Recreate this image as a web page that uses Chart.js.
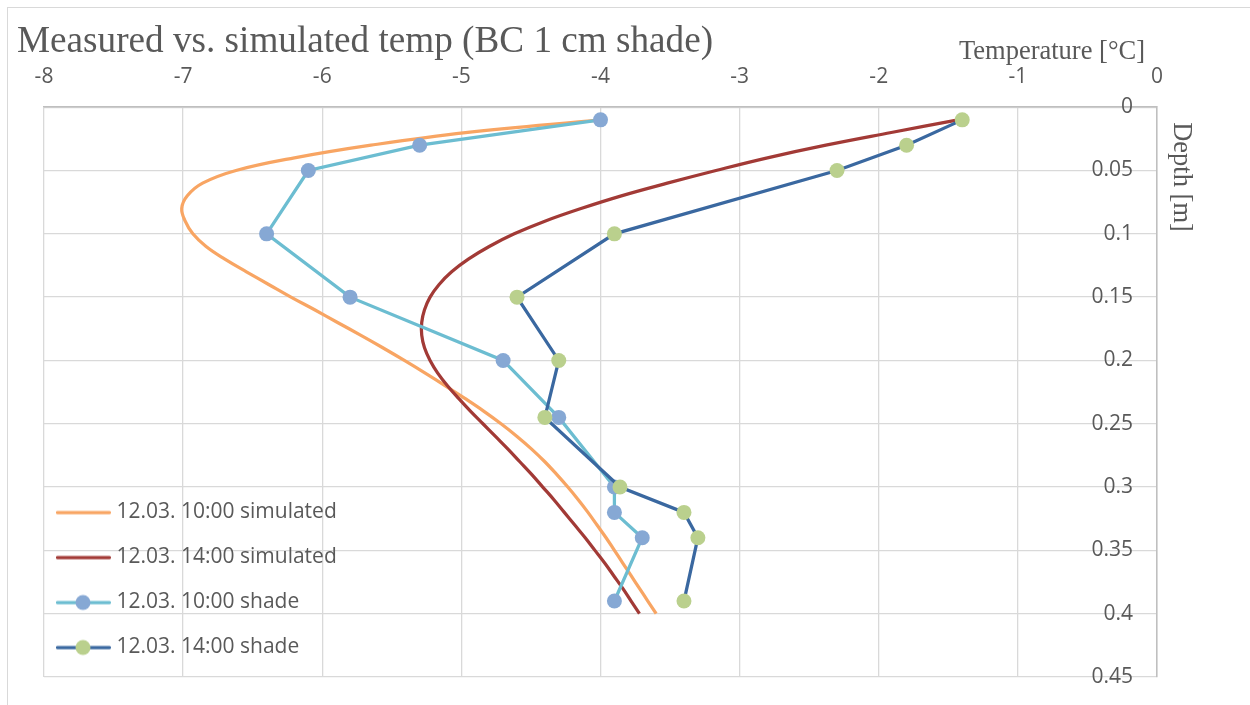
<!DOCTYPE html>
<html>
<head>
<meta charset="utf-8">
<script src="https://cdn.jsdelivr.net/npm/chart.js@4.4.1/dist/chart.umd.min.js"></script>
<style>
  html, body { margin: 0; padding: 0; background: #ffffff; }
  #wrap { position: relative; width: 1250px; height: 705px; overflow: hidden; }
  #frame { position: absolute; left: 7px; top: 7px; width: 1300px; height: 800px; border: 1px solid #d9d9d9; box-sizing: border-box; }
  #chart { position: absolute; left: 0; top: 0; }
</style>
</head>
<body>
<div id="wrap">
  <div id="frame"></div>
  <canvas id="chart" width="1250" height="705"></canvas>
</div>
<script>
// Chart text
const chartTitle = 'Measured vs. simulated temp (BC 1 cm shade)';
const xTitle = 'Temperature [°C]';
const yTitle = 'Depth [m]';
const seriesNames = ['12.03. 10:00 simulated', '12.03. 14:00 simulated', '12.03. 10:00 shade', '12.03. 14:00 shade'];

// Tick labels
const tempTickLabels = ['-8', '-7', '-6', '-5', '-4', '-3', '-2', '-1', '0'];
const depthTickLabels = ['0', '0.05', '0.1', '0.15', '0.2', '0.25', '0.3', '0.35', '0.4', '0.45'];

// Simulated profiles (depth in m, temperature in °C)
const depthSim = [0.01, 0.02, 0.03, 0.04, 0.05, 0.06, 0.07, 0.08, 0.09, 0.10,
                  0.11, 0.12, 0.13, 0.14, 0.15, 0.16, 0.17, 0.18, 0.19, 0.20,
                  0.21, 0.22, 0.23, 0.24, 0.25, 0.26, 0.27, 0.28, 0.29, 0.30,
                  0.31, 0.32, 0.33, 0.34, 0.35, 0.36, 0.37, 0.38, 0.39, 0.40];
const tempSim10 = [-4.00, -4.97, -5.65, -6.20, -6.62, -6.86, -6.97, -7.01, -6.985, -6.93,
                   -6.835, -6.70, -6.545, -6.385, -6.225, -6.055, -5.89, -5.725, -5.565, -5.41,
                   -5.26, -5.115, -4.975, -4.84, -4.715, -4.60, -4.495, -4.40, -4.315, -4.235,
                   -4.16, -4.09, -4.025, -3.96, -3.90, -3.84, -3.78, -3.72, -3.66, -3.60];
const tempSim14 = [-1.43, -1.91, -2.38, -2.80, -3.17, -3.52, -3.85, -4.14, -4.40, -4.62,
                   -4.80, -4.95, -5.07, -5.16, -5.225, -5.265, -5.285, -5.285, -5.265, -5.225,
                   -5.17, -5.10, -5.02, -4.935, -4.845, -4.755, -4.665, -4.58, -4.495, -4.415,
                   -4.335, -4.26, -4.185, -4.11, -4.04, -3.97, -3.905, -3.84, -3.78, -3.72];

// Measured profiles in shade
const depthShade = [0.01, 0.03, 0.05, 0.10, 0.15, 0.20, 0.245, 0.30, 0.32, 0.34, 0.39];
const tempShade10 = [-4.0, -5.3, -6.1, -6.4, -5.8, -4.7, -4.3, -3.9, -3.9, -3.7, -3.9];
const tempShade14 = [-1.4, -1.8, -2.3, -3.9, -4.6, -4.3, -4.4, -3.86, -3.4, -3.3, -3.4];

const pairs = (xs, ys) => xs.map((x, i) => ({ x: x, y: ys[i] }));
const labelFor = (labels, v) => labels.find(t => Math.abs(parseFloat(t) - v) < 1e-6);

const colors = {
  sim10: '#F8A563',
  sim14: '#A23A36',
  shade10Line: '#6CBDD1',
  shade10Mark: '#86A8D4',
  shade14Line: '#3A68A0',
  shade14Mark: '#BAD08D',
  text: '#595959',
  grid: '#d9d9d9',
  axis: '#bfbfbf'
};

// Legend symbol: short line with an optional round marker
function legendSymbol(lineColor, markColor) {
  const c = document.createElement('canvas');
  c.width = 62; c.height = 18;
  const g = c.getContext('2d');
  g.strokeStyle = lineColor; g.lineWidth = 3.25; g.lineCap = 'round';
  g.beginPath(); g.moveTo(1.5, 9); g.lineTo(53.5, 9); g.stroke();
  if (markColor) {
    g.fillStyle = markColor;
    g.beginPath(); g.arc(27, 9, 7.5, 0, Math.PI * 2); g.fill();
  }
  return c;
}
const legendIcons = [
  legendSymbol(colors.sim10),
  legendSymbol(colors.sim14),
  legendSymbol(colors.shade10Line, colors.shade10Mark),
  legendSymbol(colors.shade14Line, colors.shade14Mark)
];

// Axis titles at the top right corner and along the right axis;
// the legend block sits in the lower left corner of the plot area
const chartExtras = {
  id: 'chartExtras',
  afterLayout(chart) {
    const lg = chart.legend;
    if (!lg) return;
    const dy = chart.chartArea.bottom + 5 - lg.bottom;
    lg.top += dy;
    lg.bottom += dy;
  },
  afterDraw(chart) {
    const { ctx, chartArea } = chart;
    ctx.save();
    ctx.font = '26.5px "Liberation Serif"';
    ctx.fillStyle = colors.text;
    ctx.textBaseline = 'middle';
    ctx.textAlign = 'right';
    ctx.fillText(xTitle, chartArea.right - 12, 52);
    ctx.translate(chartArea.right + 24, chartArea.top + 15);
    ctx.rotate(Math.PI / 2);
    ctx.textAlign = 'left';
    ctx.fillText(yTitle, 0, 0);
    ctx.restore();
  }
};

const tickFont = { family: 'Open Sans', size: 21 };

new Chart(document.getElementById('chart'), {
  type: 'scatter',
  data: {
    datasets: [
      {
        label: seriesNames[0], data: pairs(tempSim10, depthSim), showLine: true,
        borderColor: colors.sim10, borderWidth: 3.25, pointRadius: 0, tension: 0.4, order: 4
      },
      {
        label: seriesNames[1], data: pairs(tempSim14, depthSim), showLine: true,
        borderColor: colors.sim14, borderWidth: 3.25, pointRadius: 0, tension: 0.4, order: 3
      },
      {
        label: seriesNames[2], data: pairs(tempShade10, depthShade), showLine: true,
        borderColor: colors.shade10Line, borderWidth: 3.25, tension: 0,
        pointRadius: 7.5, pointBackgroundColor: colors.shade10Mark, pointBorderWidth: 0, order: 2
      },
      {
        label: seriesNames[3], data: pairs(tempShade14, depthShade), showLine: true,
        borderColor: colors.shade14Line, borderWidth: 3.25, tension: 0,
        pointRadius: 7.5, pointBackgroundColor: colors.shade14Mark, pointBorderWidth: 0, order: 1
      }
    ]
  },
  options: {
    responsive: false,
    animation: false,
    devicePixelRatio: 1,
    layout: { padding: { left: 17, right: 0, top: 0, bottom: 28 } },
    scales: {
      x: {
        type: 'linear', position: 'top', min: -8, max: 0,
        ticks: {
          stepSize: 1, padding: 18, color: colors.text, font: tickFont,
          callback: (v) => labelFor(tempTickLabels, v)
        },
        grid: { color: colors.grid, lineWidth: 1.3, drawTicks: false },
        border: { color: colors.axis, width: 1.5 },
        afterFit(s) { s.height = 68.5; }
      },
      y: {
        type: 'linear', position: 'right', reverse: true, min: 0, max: 0.45,
        ticks: {
          stepSize: 0.05, mirror: true, padding: -24, color: colors.text, font: tickFont,
          callback: (v) => labelFor(depthTickLabels, v)
        },
        grid: { color: colors.grid, lineWidth: 1.3, drawTicks: false },
        border: { color: colors.axis, width: 1.5 },
        afterFit(s) { s.width = 93; }
      },
      pad: {
        type: 'linear', position: 'left', display: true,
        grid: { display: false }, border: { display: false }, ticks: { display: false },
        afterFit(s) { s.width = 27; }
      }
    },
    plugins: {
      title: {
        display: true, text: chartTitle, align: 'start', color: colors.text,
        font: { family: 'Liberation Serif', size: 37.2, weight: 'normal', lineHeight: 1 },
        padding: { top: 23.5, bottom: -22 }
      },
      legend: {
        position: 'chartArea', align: 'end',
        labels: {
          usePointStyle: true, pointStyleWidth: 38, padding: 24,
          color: colors.text, font: tickFont,
          generateLabels: (chart) => chart.data.datasets.map((ds, i) => ({
            text: ds.label, pointStyle: legendIcons[i], fillStyle: 'rgba(0,0,0,0)',
            strokeStyle: 'rgba(0,0,0,0)', lineWidth: 0, hidden: false,
            datasetIndex: i, fontColor: colors.text
          }))
        }
      },
      tooltip: { enabled: false }
    }
  },
  plugins: [chartExtras]
});
</script>
</body>
</html>
